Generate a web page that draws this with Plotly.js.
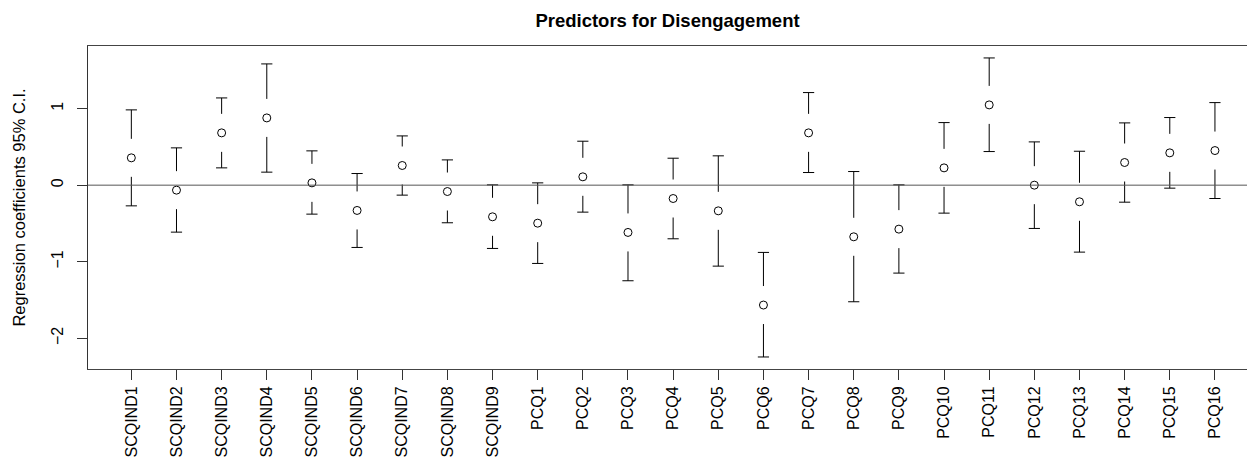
<!DOCTYPE html>
<html>
<head>
<meta charset="utf-8">
<script src="https://cdn.plot.ly/plotly-3.0.1.min.js"></script>
<style>
  html, body { margin: 0; padding: 0; background: #ffffff; }
  #chart { width: 1247px; height: 461px; }
</style>
</head>
<body>
<div id="chart"></div>
<script>
// ---- data ----
const categories = ["SCQIND1","SCQIND2","SCQIND3","SCQIND4","SCQIND5","SCQIND6","SCQIND7","SCQIND8","SCQIND9",
  "PCQ1","PCQ2","PCQ3","PCQ4","PCQ5","PCQ6","PCQ7","PCQ8","PCQ9","PCQ10","PCQ11","PCQ12","PCQ13","PCQ14","PCQ15","PCQ16"];
const coef  = [0.357,-0.065,0.683,0.878,0.030,-0.330,0.257,-0.083,-0.413,
  -0.496,0.109,-0.617,-0.174,-0.335,-1.565,0.683,-0.674,-0.574,0.226,1.048,0.000,-0.217,0.296,0.422,0.452];
const upper = [0.983,0.487,1.139,1.583,0.448,0.152,0.643,0.330,0.004,
  0.030,0.574,0.004,0.352,0.383,-0.878,1.209,0.178,0.004,0.817,1.661,0.565,0.443,0.813,0.883,1.078];
const lower = [-0.270,-0.613,0.226,0.170,-0.378,-0.813,-0.130,-0.491,-0.826,
  -1.022,-0.352,-1.248,-0.700,-1.057,-2.243,0.165,-1.522,-1.148,-0.365,0.439,-0.565,-0.874,-0.222,-0.039,-0.174];
const yTicks = [-2, -1, 0, 1];

// ---- layout constants ----
const W = 1247, H = 461;
const M = { l: 88, r: 0, t: 46, b: 92 };
const yRange = [-2.40, 1.817];
const gapPx = 19; // blank gap between the point and the interval line
const gapY = gapPx * (yRange[1] - yRange[0]) / (H - M.t - M.b);

const xIdx = categories.map((c, i) => i + 1);

// vertical interval lines, broken around the point
const segX = [], segY = [];
xIdx.forEach((x, i) => {
  segX.push(x, x, null, x, x, null);
  segY.push(upper[i], coef[i] + gapY, null, coef[i] - gapY, lower[i], null);
});

const traces = [
  {
    type: 'scatter', mode: 'lines', x: segX, y: segY,
    line: { color: '#000000', width: 1 }, connectgaps: false,
    hoverinfo: 'skip', showlegend: false
  },
  { // caps
    type: 'scatter', mode: 'markers', x: xIdx.concat(xIdx), y: upper.concat(lower),
    marker: { symbol: 'line-ew', size: 8, color: '#000000', line: { width: 1, color: '#000000' } },
    hoverinfo: 'skip', showlegend: false
  },
  { // point estimates
    type: 'scatter', mode: 'markers', x: xIdx, y: coef,
    marker: { symbol: 'circle-open', size: 8, color: '#000000', line: { width: 1, color: '#000000' } },
    showlegend: false
  }
];

const layout = {
  width: W, height: H,
  margin: { l: M.l, r: M.r, t: M.t, b: M.b, pad: 0 },
  paper_bgcolor: '#ffffff', plot_bgcolor: '#ffffff',
  font: { family: "'Liberation Sans', Arial, sans-serif", color: '#000000', size: 16 },
  title: { text: '<b>Predictors for Disengagement</b>', xref: 'paper', x: 0.5, xanchor: 'center',
           yref: 'container', y: 0.955, yanchor: 'middle',
           font: { size: 18.5, family: "'Liberation Sans', Arial, sans-serif", color: '#000000' } },
  xaxis: {
    range: [0.04, 25.71], tickmode: 'array', tickvals: xIdx, ticktext: categories,
    tickangle: -90, ticks: 'outside', ticklen: 10, tickwidth: 1, tickcolor: '#333333',
    ticklabelstandoff: 0,
    showgrid: false, zeroline: false, showline: true, mirror: true, linecolor: '#444444', linewidth: 1,
    tickfont: { size: 16 }
  },
  yaxis: {
    range: yRange, tickmode: 'array', tickvals: yTicks, ticktext: yTicks.map(v => v < 0 ? '\u2212' + Math.abs(v) : String(v)),
    tickangle: -90, ticks: 'outside', ticklen: 10, tickwidth: 1, tickcolor: '#333333',
    ticklabelstandoff: 8,
    showgrid: false, zeroline: false, showline: true, mirror: false, linecolor: '#333333', linewidth: 1,
    tickfont: { size: 16 },
    title: { text: 'Regression coefficients 95% C.I.', standoff: 18, font: { size: 16.5 } }
  },
  shapes: [
    { type: 'line', xref: 'paper', yref: 'y', x0: 0, x1: 1, y0: 0, y1: 0,
      line: { color: '#555555', width: 1 }, layer: 'above' }
  ]
};

Plotly.newPlot('chart', traces, layout, { staticPlot: true, displayModeBar: false });
</script>
</body>
</html>
